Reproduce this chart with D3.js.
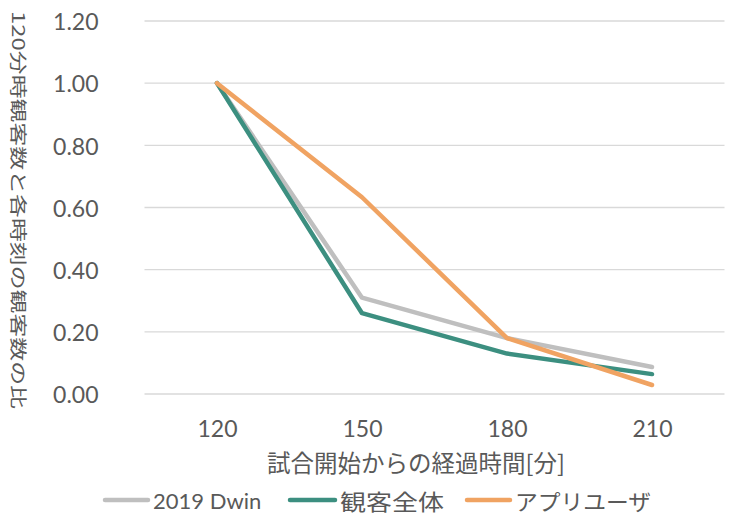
<!DOCTYPE html>
<html>
<head>
<meta charset="utf-8">
<script src="https://cdn.jsdelivr.net/npm/d3@7"></script>
<style>
  html, body { margin: 0; padding: 0; background: #fff; }
  svg { display: block; }
</style>
</head>
<body>
<script>
// Viewer ratio relative to the 120-minute audience
const categories = ["120", "150", "180", "210"];
const dwin2019 = [1.00, 0.31, 0.18, 0.087];
const audienceAll = [1.00, 0.26, 0.13, 0.064];
const appUsers = [1.00, 0.633, 0.18, 0.029];
const yTicks = [0, 0.2, 0.4, 0.6, 0.8, 1.0, 1.2];

const seriesNames = ["2019 Dwin", "観客全体", "アプリユーザ"];
const seriesColors = ["#BFBFBF", "#3C8F80", "#F0A362"];
const seriesValues = [dwin2019, audienceAll, appUsers];

const W = 738, H = 517;
const margin = { left: 144.5, right: 13.5, top: 21, bottom: 123 };
const latin = "Lato, 'Noto Sans', sans-serif";
const cjk = "'Noto Sans CJK JP', sans-serif";
const textColor = "#595959";

const svg = d3.select("body").append("svg").attr("width", W).attr("height", H);

const x = d3.scalePoint().domain(categories)
  .range([margin.left, W - margin.right]).padding(0.5);
const y = d3.scaleLinear().domain([0, 1.2]).range([H - margin.bottom, margin.top]);

// Horizontal gridlines
svg.append("g").selectAll("line").data(yTicks).join("line")
  .attr("x1", margin.left).attr("x2", W - margin.right)
  .attr("y1", d => y(d)).attr("y2", d => y(d))
  .attr("stroke", "#D9D9D9").attr("stroke-width", 1.3);

// Y axis labels
const yAxis = svg.append("g").attr("transform", `translate(${margin.left - 46},0)`)
  .call(d3.axisLeft(y).tickValues(yTicks).tickFormat(d3.format(".2f")).tickSize(0).tickPadding(0));
yAxis.select(".domain").remove();
yAxis.selectAll("text").attr("font-family", latin).attr("font-size", 23)
  .attr("fill", textColor).attr("dy", "0.38em");

// X axis labels
const xAxis = svg.append("g").attr("transform", `translate(0,${y(0)})`)
  .call(d3.axisBottom(x).tickSize(0).tickPadding(27));
xAxis.select(".domain").remove();
xAxis.selectAll("text").attr("font-family", latin).attr("font-size", 23)
  .attr("fill", textColor);

// Axis titles
svg.append("text")
  .attr("x", 416).attr("y", 462)
  .attr("text-anchor", "middle").attr("dominant-baseline", "central")
  .attr("font-family", cjk).attr("font-size", 23.5)
  .attr("fill", textColor).text("試合開始からの経過時間[分]");

svg.append("text")
  .attr("transform", "translate(19,210) rotate(90) scale(1,0.72)")
  .attr("text-anchor", "middle").attr("dominant-baseline", "central")
  .attr("font-family", cjk).attr("font-size", 24)
  .attr("textLength", 398).attr("lengthAdjust", "spacingAndGlyphs")
  .attr("fill", textColor).text("120分時観客数と各時刻の観客数の比");

// Series lines
const line = d3.line().x((d, i) => x(categories[i])).y(d => y(d));
svg.append("g").selectAll("path").data(seriesValues).join("path")
  .attr("d", d => line(d))
  .attr("fill", "none")
  .attr("stroke", (d, i) => seriesColors[i])
  .attr("stroke-width", 4.5)
  .attr("stroke-linejoin", "round")
  .attr("stroke-linecap", "round");

// Legend
const legendItems = [
  { x: 105, w: 43, size: 22, font: latin },
  { x: 290, w: 45, size: 22, font: cjk, len: 104 },
  { x: 467, w: 43, size: 22, font: cjk, len: 136 }
];
const legend = svg.append("g");
seriesNames.forEach((name, i) => {
  const it = legendItems[i], ly = 500;
  legend.append("line")
    .attr("x1", it.x).attr("x2", it.x + it.w)
    .attr("y1", ly).attr("y2", ly)
    .attr("stroke", seriesColors[i]).attr("stroke-width", 4.5)
    .attr("stroke-linecap", "round");
  const t = legend.append("text")
    .attr("x", it.x + it.w + 5).attr("y", ly)
    .attr("dominant-baseline", "central")
    .attr("font-family", it.font)
    .attr("font-size", it.size)
    .attr("fill", textColor).text(name);
  if (it.len) t.attr("textLength", it.len).attr("lengthAdjust", "spacingAndGlyphs");
});
</script>
</body>
</html>
